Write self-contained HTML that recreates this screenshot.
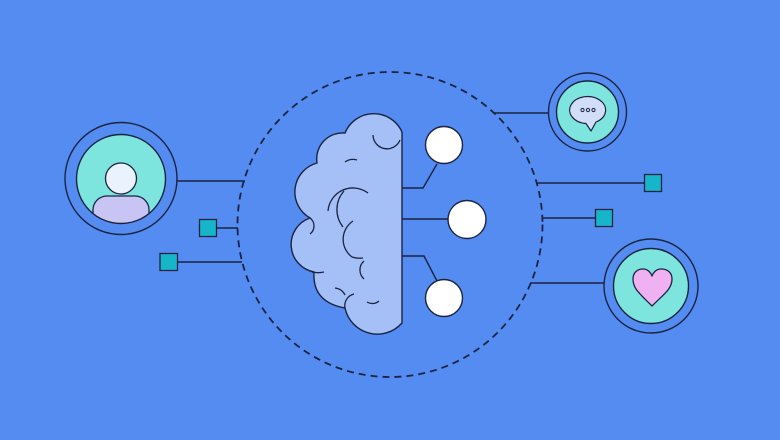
<!DOCTYPE html>
<html><head><meta charset="utf-8"><style>
html,body{margin:0;padding:0;background:#558cf1;}
svg{display:block}
</style></head><body>
<svg width="780" height="440" viewBox="0 0 780 440" xmlns="http://www.w3.org/2000/svg">
<rect width="780" height="440" fill="#558cf1"/>
<g stroke="#1b2340" stroke-width="1.4" fill="none">
<circle cx="390" cy="224.5" r="152.5" stroke-width="1.8" stroke-dasharray="7,5"/>
<line x1="177" y1="181" x2="245" y2="181"/>
<line x1="217" y1="228" x2="238" y2="228"/>
<line x1="178" y1="262" x2="242" y2="262"/>
<line x1="493" y1="113" x2="548" y2="113"/>
<line x1="537" y1="183" x2="644" y2="183"/>
<line x1="543" y1="218" x2="595" y2="218"/>
<line x1="530" y1="283" x2="604" y2="283"/>
<polyline points="402,188 423,188 437,164"/>
<line x1="402" y1="219" x2="449" y2="219"/>
<polyline points="402,256 424,256 437,281"/>
</g>
<path d="M402,132 A31,31 0 0 0 345,133 A26,26 0 0 0 317,163 A30,30 0 0 0 310,218 A28,28 0 0 0 314,272 Q312,302 345,308 A33,33 0 0 0 402,323 Z" fill="#a4c0f7" stroke="#1b2340" stroke-width="1.4"/>
<g stroke="#1b2340" stroke-width="1.3" fill="none">
<path d="M373,135 A14,14 0 0 0 400,140"/>
<path d="M345,162 A14,14 0 0 1 357,160"/>
<path d="M328,211 A25,25 0 0 1 368,193"/>
<path d="M343,227 A28,28 0 0 1 344,191"/>
<path d="M352,257 A22,22 0 0 1 353,221"/>
<path d="M352,257 A25,25 0 0 0 363,258"/>
<path d="M364,261 A12,12 0 0 0 364,279"/>
<path d="M310,218 A10,10 0 0 1 310,234"/>
<path d="M324,272 A26,26 0 0 1 312,272"/>
<path d="M335,288 A12,12 0 0 1 345,295"/>
<path d="M345,308 A12,12 0 0 1 354,294"/>
<path d="M367,302 A10,10 0 0 0 379,301"/>
</g>
<g fill="#fff" stroke="#1b2340" stroke-width="1.4">
<circle cx="444" cy="145" r="18.5"/>
<circle cx="467" cy="219.5" r="19"/>
<circle cx="444" cy="298" r="18.5"/>
</g>
<defs><clipPath id="uc"><circle cx="121" cy="179" r="44.5"/></clipPath></defs>
<circle cx="121" cy="178.5" r="56" fill="none" stroke="#1b2340" stroke-width="1.4"/>
<circle cx="121" cy="179" r="44.5" fill="#7de5de"/>
<g clip-path="url(#uc)">
<rect x="93" y="196" width="56" height="50" rx="14" fill="#c8c4f3" stroke="#1b2340" stroke-width="1.3"/>
</g>
<circle cx="121" cy="179" r="44.5" fill="none" stroke="#1b2340" stroke-width="1.4"/>
<circle cx="121" cy="178.5" r="15.5" fill="#e9f2fd" stroke="#1b2340" stroke-width="1.3"/>
<g fill="#17b5ca" stroke="#1b2340" stroke-width="1.3">
<rect x="199.5" y="219.5" width="17" height="17"/>
<rect x="160" y="253.5" width="17.5" height="17"/>
<rect x="644.5" y="174.5" width="17" height="17"/>
<rect x="595.5" y="209.5" width="17" height="17"/>
</g>
<circle cx="587.5" cy="112" r="39" fill="none" stroke="#1b2340" stroke-width="1.4"/>
<circle cx="587.5" cy="112" r="31" fill="#7de5de" stroke="#1b2340" stroke-width="1.4"/>
<path d="M586,123.5 A18,13.5 0 1 1 596,122 L591,131 Z" fill="#d2def8" stroke="#1b2340" stroke-width="1.2" stroke-linejoin="round"/>
<g fill="#d2def8" stroke="#1b2340" stroke-width="1">
<circle cx="582.5" cy="110" r="1.6"/><circle cx="588" cy="110" r="1.6"/><circle cx="593.5" cy="110" r="1.6"/>
</g>
<circle cx="651" cy="286" r="47" fill="none" stroke="#1b2340" stroke-width="1.4"/>
<circle cx="651" cy="286" r="37.5" fill="#7de5de" stroke="#1b2340" stroke-width="1.4"/>
<path d="M652,306 C640,294 633,289 633,279 C633,272 638,269 643,269 C648,269 651,273 652,276 C653,273 656,269 661,269 C667,269 672,272 672,279 C672,289 664,294 652,306 Z" fill="#efb1f1" stroke="#1b2340" stroke-width="1.3" stroke-linejoin="round"/>
</svg>
</body></html>
